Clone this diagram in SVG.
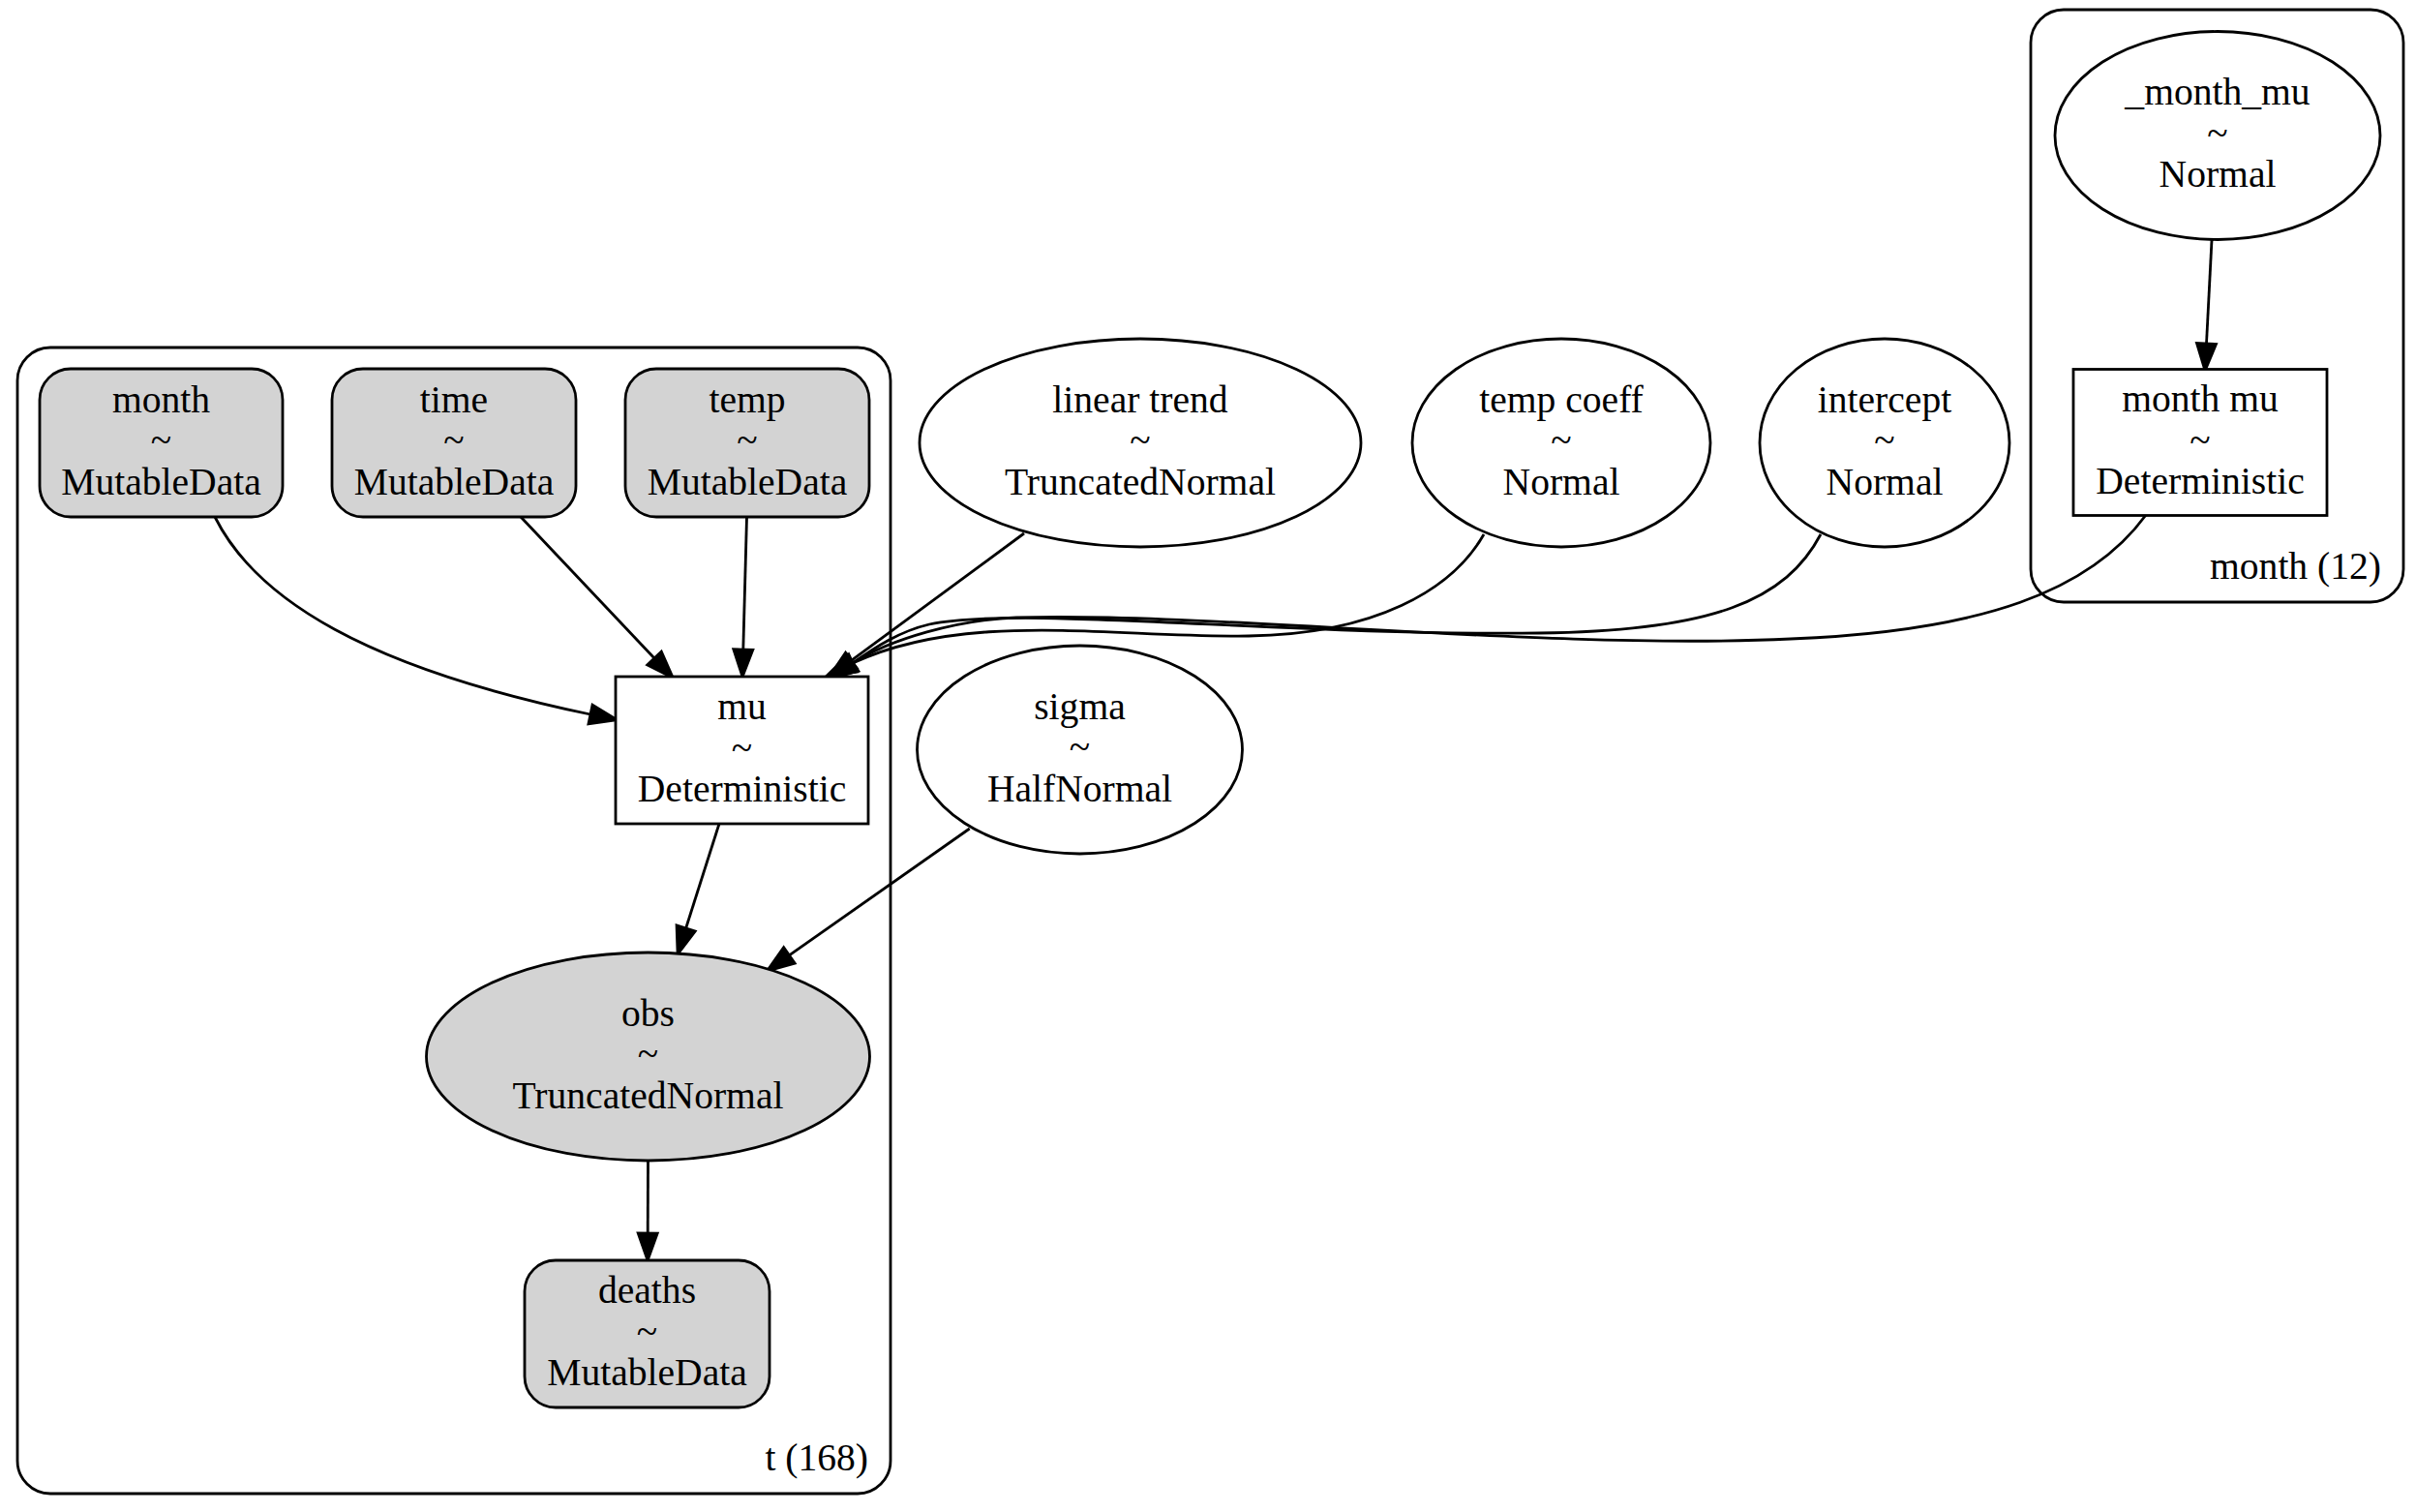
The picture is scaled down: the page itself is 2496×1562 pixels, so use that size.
<svg xmlns="http://www.w3.org/2000/svg" width="2496" height="1562" viewBox="0 0 2496 1562">
<style>
text{font-family:"Liberation Serif","Times New Roman",serif;font-size:39.6px;fill:#000;text-anchor:middle}
.c{fill:none;stroke:#000;stroke-width:2.8}
.n{fill:#fff;stroke:#000;stroke-width:2.8}
.g{fill:#d3d3d3;stroke:#000;stroke-width:2.8}
.e{fill:none;stroke:#000;stroke-width:2.8}
.lbl{text-anchor:end}
</style>
<defs>
<marker id="ah" markerUnits="userSpaceOnUse" markerWidth="30" markerHeight="22" refX="0" refY="10" orient="auto" overflow="visible">
<path d="M0,0 L28,10 L0,20 z" fill="#000" stroke="#000" stroke-width="2.8"/>
</marker>
</defs>
<rect width="2496" height="1562" fill="#fff"/>
<g id="cluster_t">
<rect class="c" x="18" y="359" width="902" height="1184" rx="34" ry="34"/>
<text class="lbl" x="897" y="1519">t (168)</text>
</g>
<g id="cluster_month">
<rect class="c" x="2098" y="10" width="385" height="612" rx="34" ry="34"/>
<text class="lbl" x="2460" y="598">month (12)</text>
</g>
<g id="edges">
<path class="e" marker-end="url(#ah)" d="M222,534 C265,620 380,690 610,738"/>
<path class="e" marker-end="url(#ah)" d="M538,534 L676,680"/>
<path class="e" marker-end="url(#ah)" d="M771.5,534 L767.8,671"/>
<path class="e" marker-end="url(#ah)" d="M1058,551 L879.5,682.3"/>
<path class="e" marker-end="url(#ah)" d="M1533,552 C1500,610 1420,655 1290,657 C1150,659 1000,630 881,685"/>
<path class="e" marker-end="url(#ah)" d="M1881,552 C1845,620 1770,652 1590,654 C1320,657 1060,625 960,645 C930,652 905,668 881,685"/>
<path class="e" marker-end="url(#ah)" d="M2217,532 C2160,610 2050,652 1850,660 C1600,672 1250,632 1050,638 C990,640 920,660 881,685"/>
<path class="e" marker-end="url(#ah)" d="M743,851 L708.6,959"/>
<path class="e" marker-end="url(#ah)" d="M1001.7,856 L815.4,986.9"/>
<path class="e" marker-end="url(#ah)" d="M669.5,1199 L669.2,1274"/>
<path class="e" marker-end="url(#ah)" d="M2285,248 L2279.5,355"/>
</g>
<g id="node_month">
<rect class="g" x="41" y="381" width="251" height="153" rx="32" ry="32"/>
<text x="166.5" y="425.5">month</text><text x="166.5" y="468">~</text><text x="166.5" y="510.5">MutableData</text>
</g>
<g id="node_time">
<rect class="g" x="343" y="381" width="252" height="153" rx="32" ry="32"/>
<text x="469" y="425.5">time</text><text x="469" y="468">~</text><text x="469" y="510.5">MutableData</text>
</g>
<g id="node_temp">
<rect class="g" x="646" y="381" width="252" height="153" rx="32" ry="32"/>
<text x="772" y="425.5">temp</text><text x="772" y="468">~</text><text x="772" y="510.5">MutableData</text>
</g>
<g id="node_mu">
<rect class="n" x="636" y="699" width="261" height="152"/>
<text x="766.5" y="743">mu</text><text x="766.5" y="785.5">~</text><text x="766.5" y="828">Deterministic</text>
</g>
<g id="node_obs">
<ellipse class="g" cx="669.5" cy="1091.5" rx="229" ry="107.5"/>
<text x="669.5" y="1059.5">obs</text><text x="669.5" y="1102">~</text><text x="669.5" y="1144.5">TruncatedNormal</text>
</g>
<g id="node_deaths">
<rect class="g" x="542" y="1302" width="253" height="152" rx="32" ry="32"/>
<text x="668.5" y="1346">deaths</text><text x="668.5" y="1388.5">~</text><text x="668.5" y="1431">MutableData</text>
</g>
<g id="node_linear_trend">
<ellipse class="n" cx="1178" cy="457.5" rx="228" ry="107.5"/>
<text x="1178" y="425.5">linear trend</text><text x="1178" y="468">~</text><text x="1178" y="510.5">TruncatedNormal</text>
</g>
<g id="node_temp_coeff">
<ellipse class="n" cx="1613" cy="457.5" rx="154" ry="107.5"/>
<text x="1613" y="425.5">temp coeff</text><text x="1613" y="468">~</text><text x="1613" y="510.5">Normal</text>
</g>
<g id="node_intercept">
<ellipse class="n" cx="1947" cy="457.5" rx="129" ry="107.5"/>
<text x="1947" y="425.5">intercept</text><text x="1947" y="468">~</text><text x="1947" y="510.5">Normal</text>
</g>
<g id="node_sigma">
<ellipse class="n" cx="1115.5" cy="774.5" rx="168" ry="107.5"/>
<text x="1115.5" y="742.5">sigma</text><text x="1115.5" y="785">~</text><text x="1115.5" y="827.5">HalfNormal</text>
</g>
<g id="node__month_mu">
<ellipse class="n" cx="2291" cy="140" rx="168" ry="107.5"/>
<text x="2291" y="108">_month_mu</text><text x="2291" y="150.5">~</text><text x="2291" y="193">Normal</text>
</g>
<g id="node_month_mu">
<rect class="n" x="2142" y="381.5" width="262" height="151"/>
<text x="2273" y="425">month mu</text><text x="2273" y="467.5">~</text><text x="2273" y="510">Deterministic</text>
</g>
</svg>
